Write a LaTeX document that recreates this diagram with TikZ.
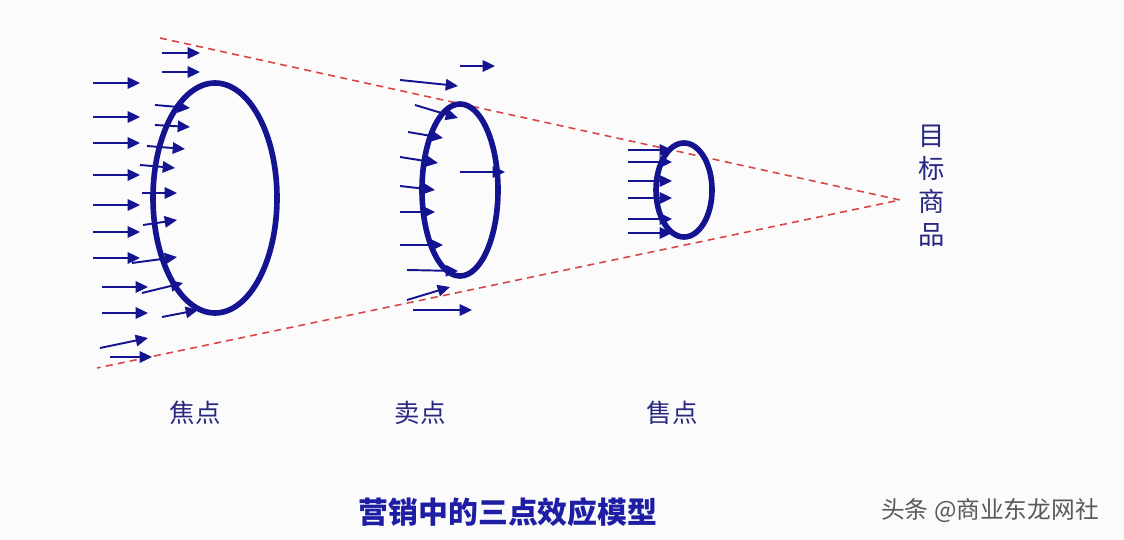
\documentclass[tikz,border=0pt]{standalone}
\usepackage{fontspec}
\usepackage{xcolor}
\newfontfamily\cjk{Noto Sans CJK SC}
\usetikzlibrary{
		arrows.meta,
		calc,
		positioning
	}
\tikzset{
		>={Triangle[length=7pt,width=6.5pt]}
	}
\definecolor{navy}{RGB}{20,20,145}
\definecolor{conered}{RGB}{215,70,70}
\definecolor{lblblue}{RGB}{40,40,130}
\definecolor{titleblue}{RGB}{30,30,165}

\begin{document}
\begin{tikzpicture}[x=0.02cm,y=-0.02cm,
        ring/.style={draw=navy, line width=3.2pt},
        ray/.style={->, draw=navy, line width=1.1pt},
        cone/.style={draw=conered, line width=0.9pt, dash pattern=on 4pt off 3pt},
        lbl/.style={font=\cjk\fontsize{14.5}{17}\selectfont, text=lblblue}
    ]
        % the background
        \fill[white!97!gray] (0,0) rectangle (1124,540);
        \useasboundingbox (0,0) rectangle (1124,540);

        % the cone to the target
        \coordinate (apex) at (900,200);
        \coordinate (ctop) at (160,38);
        \coordinate (cbot) at (97,368);
        \draw[cone] (ctop) -- (apex) -- (cbot);

        % draw the rings
        \draw[ring] (215,198) ellipse (62 and 115);
        \draw[ring] (460,190) ellipse (38 and 86);
        \draw[ring] (684,190) ellipse (28 and 47);

        % the arrows at the first ring
        \foreach \y in {83,117,143,175,205,232,258}
            \draw[ray] (93,\y) -- (140,\y);
        \foreach \y in {287,313}
            \draw[ray] (102,\y) -- (148,\y);
        \draw[ray] (100,348) -- (148,338);
        \draw[ray] (110,357) -- (152,357);
        \foreach \y in {53,72}
            \draw[ray] (162,\y) -- (200,\y);
        \draw[ray] (155,105) -- (190,108);
        \draw[ray] (155,125) -- (190,127);
        \draw[ray] (147,146) -- (185,149);
        \draw[ray] (140,165) -- (175,168);
        \draw[ray] (142,193) -- (177,193);
        \draw[ray] (143,225) -- (177,220);
        \draw[ray] (132,263) -- (177,257);
        \draw[ray] (142,293) -- (183,283);
        \draw[ray] (162,317) -- (198,310);

        % the arrows at the second ring
        \draw[ray] (460,66) -- (495,66);
        \draw[ray] (400,80) -- (458,86);
        \draw[ray] (415,105) -- (458,118);
        \draw[ray] (408,132) -- (443,138);
        \draw[ray] (400,157) -- (438,163);
        \draw[ray] (460,172) -- (505,172);
        \draw[ray] (400,186) -- (435,190);
        \draw[ray] (400,212) -- (435,212);
        \draw[ray] (400,245) -- (443,245);
        \draw[ray] (407,270) -- (458,271);
        \draw[ray] (407,300) -- (450,287);
        \draw[ray] (413,310) -- (472,310);

        % the arrows at the third ring
        \foreach \y in {150,162,181,198,219,233}
            \draw[ray] (628,\y) -- (672,\y);

        % the texts
        \node[lbl] (jiaodian) at (195,413) {焦点};
        \node[lbl] (maidian) at (420,413) {卖点};
        \node[lbl] (shoudian) at (672,413) {售点};
        \node[lbl, align=center, font=\cjk\fontsize{15}{18.7}\selectfont] (goal) at (932,186) {目\\标\\商\\品};
        \node[font=\cjk\bfseries\fontsize{17}{20}\selectfont, text=titleblue] (title) at (508,512) {营销中的三点效应模型};
        \node[font=\cjk\fontsize{13.5}{16}\selectfont, text=black!65] (mark) at (990,511) {头条 @商业东龙网社};

    \end{tikzpicture}
\end{document}
